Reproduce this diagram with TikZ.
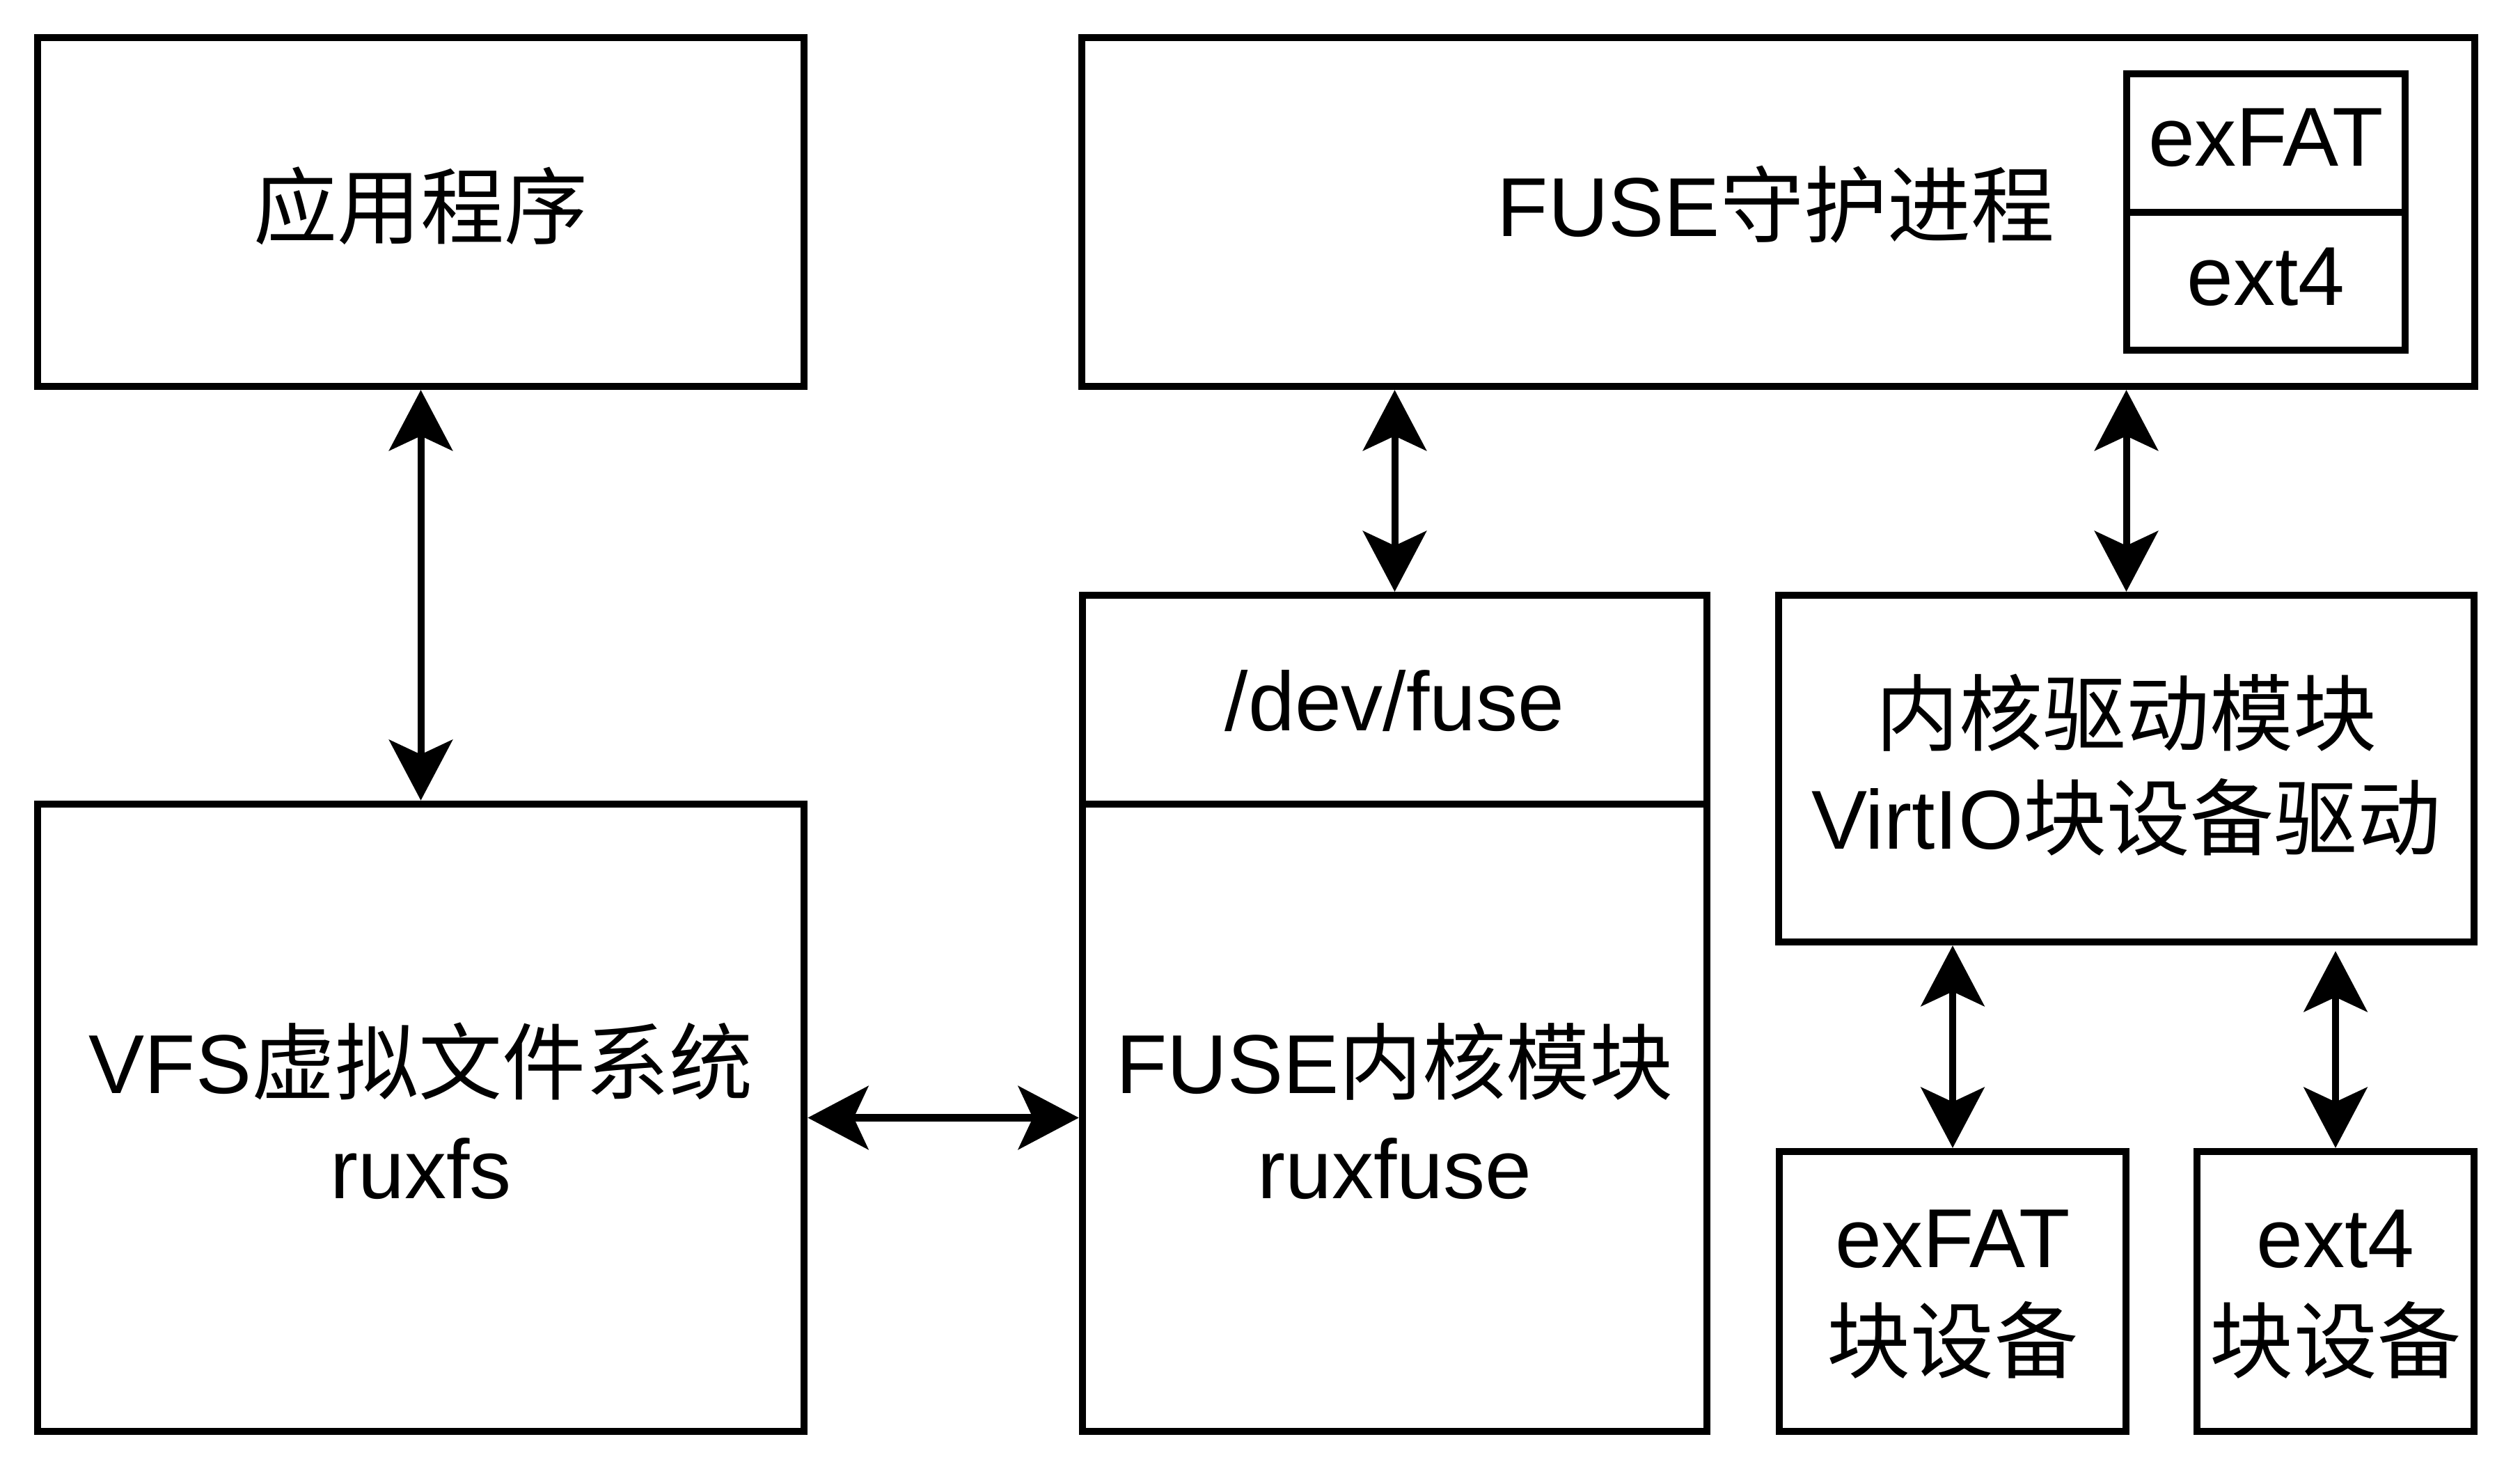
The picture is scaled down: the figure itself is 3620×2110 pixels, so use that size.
\documentclass[tikz,border=0pt]{standalone}
\usepackage{fontspec}
\setmainfont{Liberation Sans}
\newfontfamily\cjk{Noto Sans CJK SC}
\usetikzlibrary{arrows.meta}
\tikzset{
  box/.style={draw=black, line width=0.1cm, inner sep=0pt, rectangle},
  txt/.style={anchor=base, inner sep=0pt, font=\fontsize{34.14pt}{40pt}\selectfont},
  conn/.style={line width=0.1cm,
    {Stealth[length=0.87cm,width=0.91cm,inset=0.21cm]}-{Stealth[length=0.87cm,width=0.91cm,inset=0.21cm]}}
}
\begin{document}
\begin{tikzpicture}[x=0.01cm,y=-0.01cm]
\fill[white] (0,0) rectangle (3620,2110);
\useasboundingbox (0,0) rectangle (3620,2110);

% boxes
\node[box, minimum width=11.01cm, minimum height=5.01cm] (app) at (604.5,304.5) {};
\node[box, minimum width=19.99cm, minimum height=5.01cm] (daemon) at (2554.5,304.5) {};
\node[box, minimum width=4cm, minimum height=1.99cm] (fsA) at (3255,205.5) {};
\node[box, minimum width=4cm, minimum height=1.98cm] (fsB) at (3255,404) {};
\node[box, minimum width=11.01cm, minimum height=9.01cm] (vfs) at (604.5,1605.5) {};
\node[box, minimum width=8.97cm, minimum height=3cm] (devfuse) at (2003.5,1005) {};
\node[box, minimum width=8.97cm, minimum height=9.01cm] (fusemod) at (2003.5,1605.5) {};
\node[box, minimum width=9.99cm, minimum height=4.98cm] (kdrv) at (3054.5,1104) {};
\node[box, minimum width=4.98cm, minimum height=4.02cm] (exdev) at (2805,1855) {};
\node[box, minimum width=3.98cm, minimum height=4.02cm] (e4dev) at (3355,1855) {};

% texts
\node[txt] (tapp) at (604.5,342) {\cjk 应用程序};
\node[txt] (tdaemon) at (2551,340) {FUSE{\cjk 守护进程}};
\node[txt] (tfsA) at (3255,239) {exFAT};
\node[txt] (tfsB) at (3255,439) {ext4};
\node[txt] (tvfs1) at (604.5,1570) {VFS{\cjk 虚拟文件系统}};
\node[txt] (tvfs2) at (604.5,1721) {ruxfs};
\node[txt] (tdev) at (2003.5,1050) {/dev/fuse};
\node[txt] (tmod1) at (2003.5,1570) {FUSE{\cjk 内核模块}};
\node[txt] (tmod2) at (2003.5,1721) {ruxfuse};
\node[txt] (tk1) at (3054.5,1070) {\cjk 内核驱动模块};
\node[txt] (tk2) at (3054.5,1220) {VirtIO{\cjk 块设备驱动}};
\node[txt] (tex1) at (2805,1820) {exFAT};
\node[txt] (tex2) at (2805,1970) {\cjk 块设备};
\node[txt] (te41) at (3355,1820) {ext4};
\node[txt] (te42) at (3355,1970) {\cjk 块设备};

% connectors
\draw[conn] (app.south) -- (vfs.north);
\draw[conn] (daemon.south -| devfuse.north) -- (devfuse.north);
\draw[conn] (daemon.south -| kdrv.north) -- (kdrv.north);
\draw[conn] (vfs.east) -- (fusemod.west);
\draw[conn] (kdrv.south -| exdev.north) -- (exdev.north);
\draw[conn, shorten <=0.08cm] (kdrv.south -| e4dev.north) -- (e4dev.north);
\end{tikzpicture}
\end{document}
